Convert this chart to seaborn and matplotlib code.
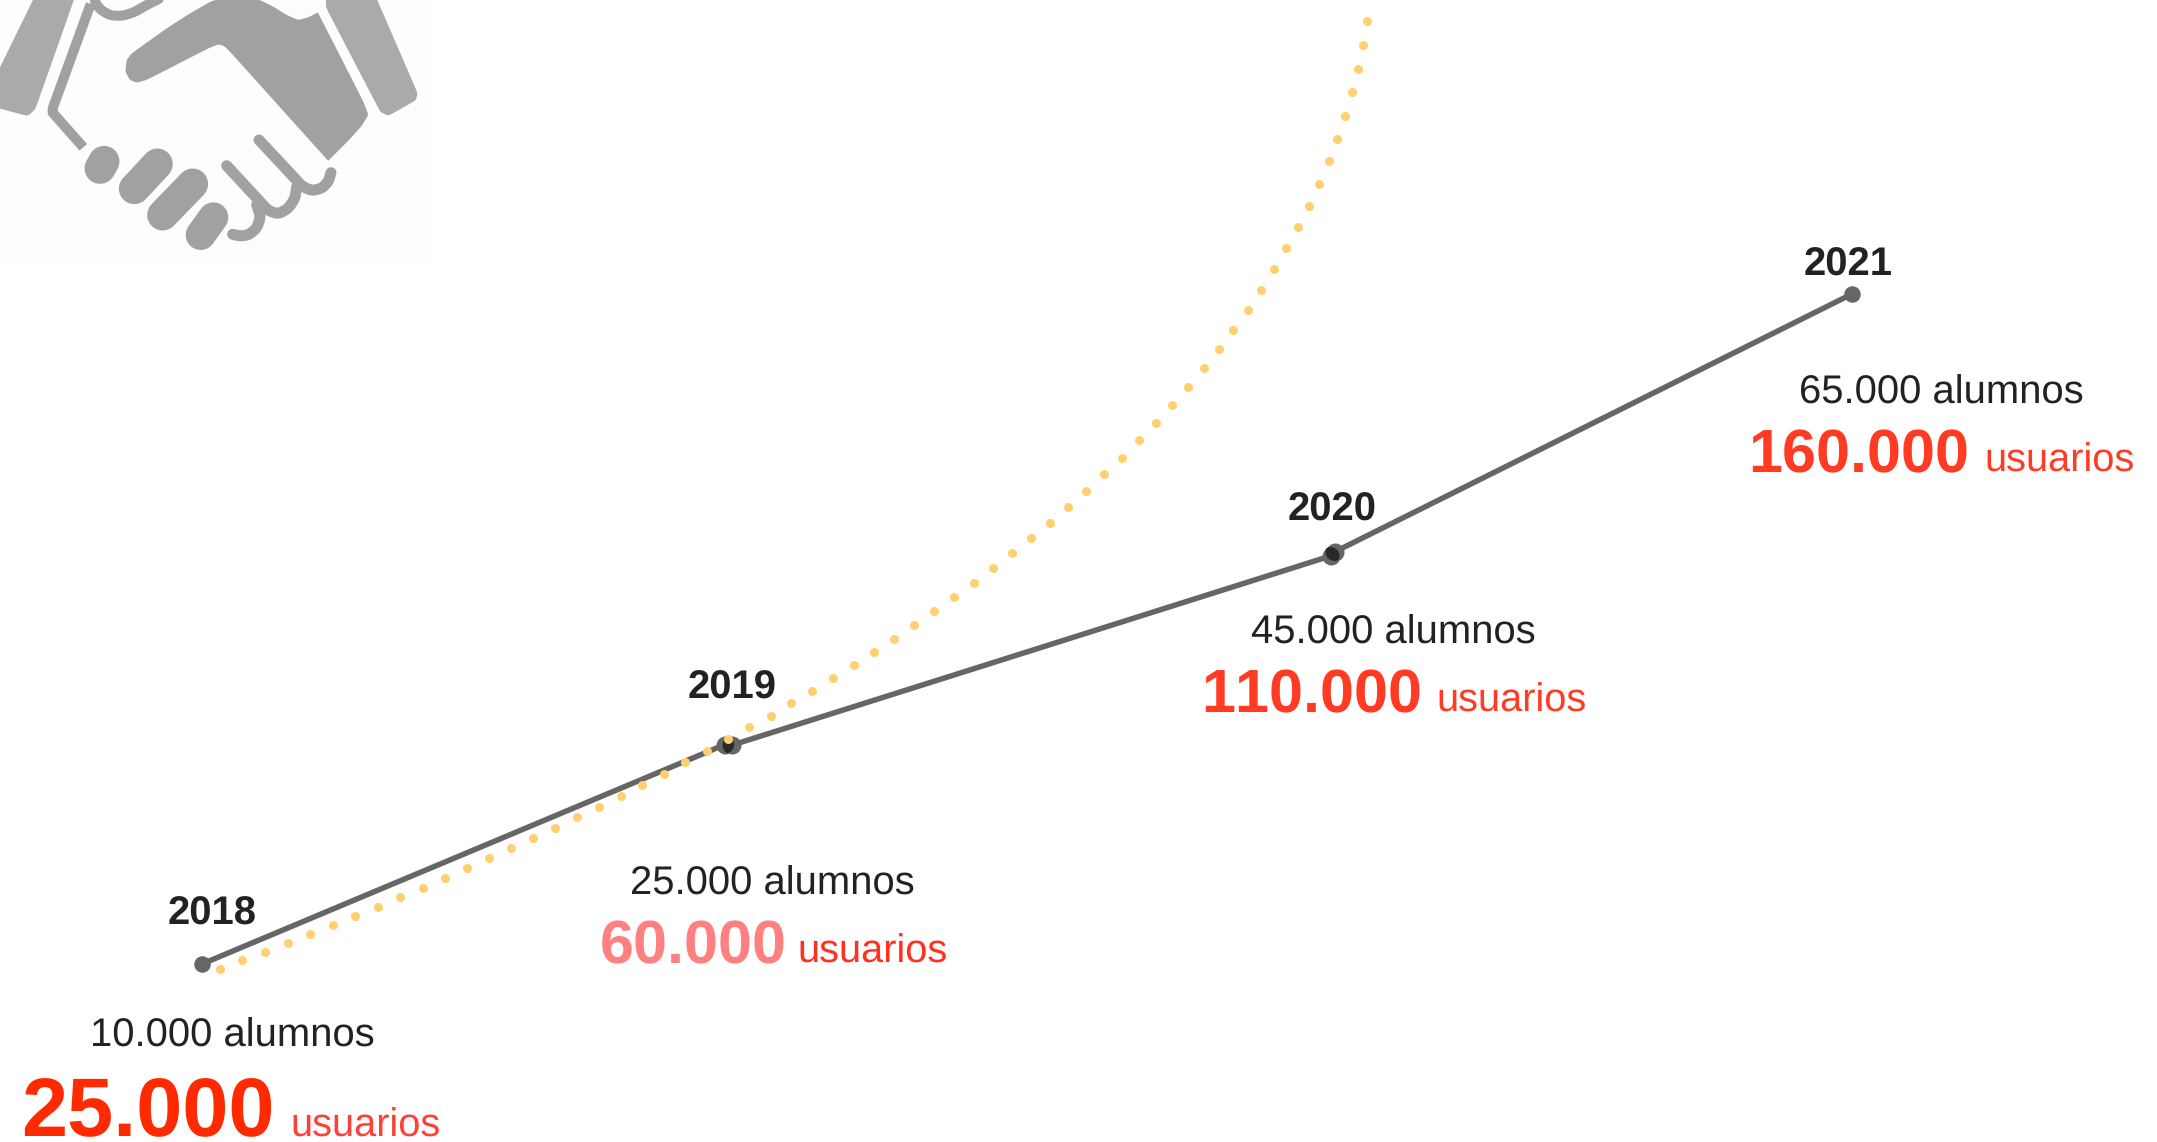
import numpy as np
import pandas as pd
import matplotlib
matplotlib.use("Agg")
import matplotlib.pyplot as plt
from matplotlib.patches import Circle, Polygon, Rectangle
import seaborn as sns

sns.set_theme(style="white")
plt.rcParams['font.family'] = ['Liberation Sans', 'DejaVu Sans']
plt.rcParams['text.hinting'] = 'no_hinting'
plt.rcParams['text.kerning_factor'] = 10

# ---- series (canvas position units) ----
years = ["2018", "2019", "2020", "2021"]
alumnos = ["10.000 alumnos", "25.000 alumnos", "45.000 alumnos", "65.000 alumnos"]
usuarios = ["25.000", "60.000", "110.000", "160.000"]
usuarios_unit = "usuarios"

seg_id = [0, 0, 1, 1, 2, 2]
line_x = [202, 725, 731.5, 1330.5, 1334.5, 1852]
line_y = [964, 744.5, 745.3, 556, 552, 294]

dots_x = [219.7, 242.3, 265, 287.7, 310.3, 333, 355.3, 377.7, 400.3, 422.7, 445, 467, 489.3,
          511.3, 533.3, 555.3, 577, 599.3, 621, 642.3, 664, 685.3, 707, 728.3, 749.3, 770.7,
          791.3, 812.3, 833, 853.7, 874, 894.3, 914.3, 934.3, 954, 973.7, 993, 1012.3, 1031,
          1049.7, 1068.3, 1086.3, 1104.3, 1121.7, 1139, 1155.7, 1172, 1188.2, 1203.7, 1219,
          1233.3, 1247.7, 1261.3, 1274.3, 1286.3, 1298.3, 1309.3, 1319.3, 1329, 1337.3, 1345.3,
          1352, 1358.3, 1363.3, 1367.3]
dots_y = [969, 960.3, 951.7, 943, 934, 925, 915.8, 906.7, 897.2, 887.7, 878, 868.2, 858.3,
          848.3, 838, 827.7, 817.3, 806.7, 796, 785, 773.7, 762.3, 751, 739.3, 727.3, 715.7,
          703, 690.7, 678, 665, 652, 639.3, 625.3, 611.3, 597.3, 582.7, 568.3, 553.3, 538,
          522.7, 507, 490.7, 474.3, 457.7, 440.3, 423, 405, 386.8, 368, 349, 329.7, 310,
          290, 269.3, 248.3, 227.3, 205.7, 183.7, 161.3, 138.7, 115.7, 92.3, 69, 45, 21]

# ---- layout and style ----
W, H = 2157, 1142
INK = "#222222"
LINE = "#666666"
LENS = "#292929"
DOT = "#ffd070"
GREY = "#a1a1a1"
GREY_L = "#aaaaaa"
PX = 0.72  # points per pixel at dpi 100
END_D = 16.5
MID_D = 18

year_pos = [(212.2, 924.7), (732, 699), (1332.2, 520.7), (1847.7, 275.7)]
alum_pos = [(232.2, 1046.7), (772.5, 894.7), (1393.3, 644), (1941, 403.4)]
usr_pos = [(275, 1136), (787, 963), (1422, 712), (1969.5, 472)]
usr_size = [59.7, 44, 44, 44]
usr_col = ["#ff2a00", "#ff8080", "#ff3b24", "#ff3b24"]
unit_pos = [(290, 1136.4), (797, 962.4), (1436, 711.4), (1984, 471.4)]
unit_col = ["#ff4038", "#ff3020", "#ff3b24", "#ff3b24"]

fig = plt.figure(figsize=(W / 100, H / 100), dpi=100, facecolor="white")
ax = fig.add_axes([0, 0, 1, 1])
ax.set_xlim(0, W)
ax.set_ylim(H, 0)
ax.axis("off")


# ---- handshake icon (decoration, outlines given in 3x crop units) ----
def soften(pts, closed=False, rounds=2, r=0.2):
    p = np.array(pts, float)
    for _ in range(rounds):
        q = np.roll(p, -1, axis=0) if closed else p[1:]
        s = p if closed else p[:-1]
        a = s * (1 - r) + q * r
        b = s * r + q * (1 - r)
        m = np.empty((a.shape[0] * 2, 2))
        m[0::2], m[1::2] = a, b
        p = m if closed else np.vstack([p[:1], m, p[-1:]])
    return p / 3


def poly(pts, color=GREY, edge=0, z=1, r=0.12):
    ax.add_patch(Polygon(soften(pts, closed=True, r=r), closed=True, facecolor=color, edgecolor=color,
                         linewidth=edge * PX, joinstyle="round", zorder=z))


def stroke(pts, width, color=GREY, z=1.2, cap="round", r=0.2):
    a = soften(pts, r=r)
    ax.plot(a[:, 0], a[:, 1], color=color, lw=width * PX, solid_capstyle=cap,
            solid_joinstyle="round", zorder=z)


ax.add_patch(Rectangle((0, 0), 433, 261, facecolor="#fdfdfd", edgecolor="none", zorder=0))
poly([(122, -20), (216, -20), (96, 320), (80, 335), (-20, 308), (-20, 270)], GREY_L, 8, r=0.05)
poly([(990, -20), (1110, -20), (1240, 280), (1237, 293), (1165, 334), (1150, 327), (990, 20)], GREY_L, 8, r=0.05)
poly([(640, 0), (720, -10), (780, 0), (820, 20), (860, 45), (895, 60), (925, 52), (952, 38),
      (954, 38), (1108, 340), (1085, 378), (1045, 422), (985, 482), (984, 482), (690, 155), (672, 138), (655, 133),
      (625, 145), (440, 240), (410, 248), (390, 240), (376, 215), (380, 180), (395, 160),
      (500, 85), (570, 40)])
# cuff seam outline and upper arc
stroke([(272, 12), (158, 325), (158, 338), (250, 442)], 10, cap="butt", r=0.04)
stroke([(285, 5), (300, 28), (330, 46), (365, 48), (400, 38), (440, 15), (480, -5)], 10)
# fingers
stroke([(312, 484), (300, 505)], 31)
stroke([(472, 492), (403, 566)], 31)
stroke([(578, 552), (488, 645)], 31)
stroke([(640, 652), (602, 705)], 30)
# finger outlines
stroke([(777, 420), (880, 530), (905, 558), (935, 572), (965, 565), (985, 545), (993, 518)], 11)
stroke([(680, 497), (780, 605), (805, 632), (835, 642), (865, 625), (885, 595), (890, 560)], 11)
stroke([(770, 615), (782, 650), (770, 685), (745, 705), (720, 708), (698, 703)], 11)

# ---- data marks ----
line_df = pd.DataFrame({"x": line_x, "y": line_y, "seg": seg_id})
sns.lineplot(data=line_df, x="x", y="y", units="seg", estimator=None, sort=False,
             color=LINE, lw=5.5 * PX, ax=ax, zorder=3, legend=False)
sns.scatterplot(data=line_df.iloc[[0, 5]], x="x", y="y", color=LINE, s=(END_D * PX) ** 2,
                linewidth=0, ax=ax, zorder=4, legend=False)
sns.scatterplot(data=line_df.iloc[1:5], x="x", y="y", color=LINE, s=(MID_D * PX) ** 2,
                linewidth=0, ax=ax, zorder=4, legend=False)

# darker overlap where the two markers of a year meet
for i in (1, 3):
    a = Circle((line_x[i], line_y[i]), MID_D / 2, facecolor="none", edgecolor="none", zorder=4.1)
    b = Circle((line_x[i + 1], line_y[i + 1]), MID_D / 2, facecolor=LENS, edgecolor="none", zorder=4.2)
    ax.add_patch(a)
    ax.add_patch(b)
    b.set_clip_path(a)

sns.scatterplot(x=dots_x, y=dots_y, color=DOT, s=(9 * PX) ** 2, linewidth=0,
                ax=ax, zorder=5, legend=False)

ax.set_xlabel("")
ax.set_ylabel("")
ax.set_xlim(0, W)
ax.set_ylim(H, 0)

# ---- text ----
for i in range(4):
    ax.text(*year_pos[i], years[i], ha="center", va="baseline", fontsize=28.8,
            fontweight="bold", color=INK, zorder=6)
    ax.text(*alum_pos[i], alumnos[i], ha="center", va="baseline", fontsize=28.8,
            color=INK, zorder=6)
    ax.text(*usr_pos[i], usuarios[i], ha="right", va="baseline", fontsize=usr_size[i],
            fontweight="bold", color=usr_col[i], zorder=6)
    ax.text(*unit_pos[i], usuarios_unit, ha="left", va="baseline", fontsize=28.6,
            color=unit_col[i], zorder=6)

fig.savefig("out.png", dpi=100, facecolor="white")
